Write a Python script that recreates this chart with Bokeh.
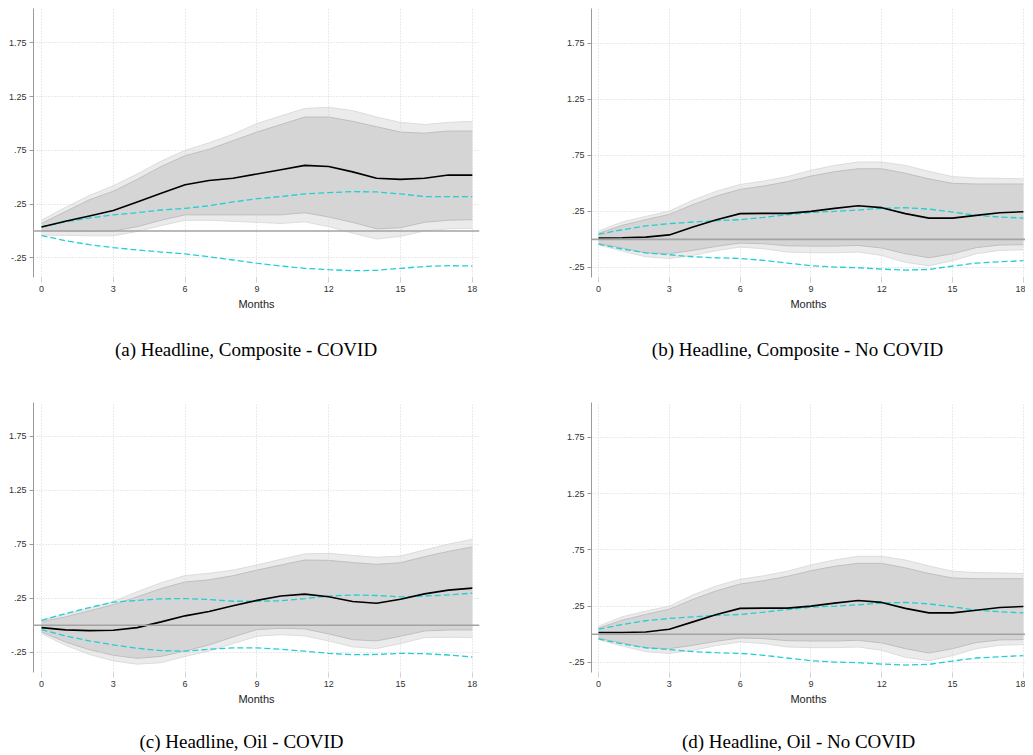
from bokeh.plotting import figure
from bokeh.models import Range1d, FixedTicker, Span
from bokeh.core.properties import value
from bokeh.layouts import column, row
from bokeh.embed import file_html
from bokeh.resources import INLINE

months = list(range(19))
x_ticks = [0, 3, 6, 9, 12, 15, 18]
y_ticks = [-0.25, 0.25, 0.75, 1.25, 1.75]
y_tick_labels = ["-.25", ".25", ".75", "1.25", "1.75"]
captions = ["(a) Headline, Composite - COVID", "(b) Headline, Composite - No COVID",
            "(c) Headline, Oil - COVID", "(d) Headline, Oil - No COVID"]

# (a) Headline, Composite - COVID
a_irf = [0.037, 0.09, 0.14, 0.19, 0.27, 0.35, 0.43, 0.47, 0.49, 0.53, 0.57, 0.61, 0.60, 0.55, 0.49, 0.48, 0.49, 0.52, 0.52]
a_in_hi = [0.07, 0.18, 0.29, 0.37, 0.48, 0.60, 0.70, 0.76, 0.84, 0.92, 0.99, 1.06, 1.06, 1.02, 0.97, 0.92, 0.91, 0.93, 0.93]
a_in_lo = [0.00, 0.00, -0.005, 0.0, 0.04, 0.10, 0.15, 0.15, 0.15, 0.15, 0.15, 0.17, 0.13, 0.08, 0.02, 0.03, 0.08, 0.10, 0.105]
a_out_hi = [0.10, 0.22, 0.33, 0.42, 0.53, 0.65, 0.75, 0.82, 0.90, 1.00, 1.07, 1.14, 1.15, 1.12, 1.06, 1.01, 0.99, 1.01, 1.02]
a_out_lo = [-0.04, -0.04, -0.045, -0.045, -0.005, 0.05, 0.10, 0.10, 0.09, 0.08, 0.07, 0.085, 0.04, -0.02, -0.075, -0.05, 0.0, 0.02, 0.025]
a_cy_hi = [0.037, 0.085, 0.12, 0.15, 0.17, 0.195, 0.21, 0.235, 0.27, 0.30, 0.32, 0.345, 0.357, 0.366, 0.363, 0.345, 0.32, 0.32, 0.32]
a_cy_lo = [-0.043, -0.09, -0.127, -0.155, -0.177, -0.196, -0.214, -0.24, -0.27, -0.30, -0.326, -0.348, -0.36, -0.37, -0.366, -0.348, -0.33, -0.323, -0.326]

# (b) Headline, Composite - No COVID
b_irf = [0.012, 0.015, 0.02, 0.04, 0.11, 0.175, 0.23, 0.232, 0.232, 0.25, 0.277, 0.30, 0.283, 0.23, 0.19, 0.19, 0.214, 0.238, 0.247]
b_in_hi = [0.054, 0.125, 0.176, 0.223, 0.31, 0.387, 0.446, 0.476, 0.515, 0.565, 0.604, 0.63, 0.63, 0.59, 0.54, 0.50, 0.494, 0.494, 0.494]
b_in_lo = [-0.036, -0.077, -0.12, -0.128, -0.098, -0.062, -0.033, -0.039, -0.057, -0.06, -0.06, -0.054, -0.077, -0.128, -0.164, -0.128, -0.074, -0.05, -0.048]
b_out_hi = [0.074, 0.155, 0.205, 0.253, 0.35, 0.43, 0.49, 0.52, 0.56, 0.616, 0.66, 0.69, 0.69, 0.66, 0.607, 0.56, 0.548, 0.545, 0.54]
b_out_lo = [-0.048, -0.104, -0.155, -0.17, -0.143, -0.10, -0.068, -0.083, -0.113, -0.119, -0.119, -0.113, -0.143, -0.205, -0.235, -0.19, -0.128, -0.098, -0.092]
b_cy_hi = [0.045, 0.086, 0.12, 0.14, 0.155, 0.167, 0.176, 0.196, 0.22, 0.24, 0.25, 0.262, 0.277, 0.283, 0.27, 0.244, 0.214, 0.20, 0.19]
b_cy_lo = [-0.042, -0.086, -0.12, -0.137, -0.155, -0.164, -0.17, -0.187, -0.211, -0.235, -0.247, -0.253, -0.265, -0.274, -0.268, -0.238, -0.211, -0.20, -0.19]

# (c) Headline, Oil - COVID
c_irf = [-0.022, -0.043, -0.05, -0.046, -0.022, 0.031, 0.087, 0.127, 0.18, 0.23, 0.27, 0.288, 0.263, 0.22, 0.204, 0.24, 0.29, 0.325, 0.343]
c_in_hi = [0.034, 0.077, 0.133, 0.19, 0.263, 0.34, 0.40, 0.42, 0.458, 0.51, 0.557, 0.603, 0.60, 0.58, 0.563, 0.578, 0.634, 0.683, 0.724]
c_in_lo = [-0.062, -0.155, -0.226, -0.278, -0.306, -0.288, -0.238, -0.182, -0.108, -0.04, -0.028, -0.034, -0.08, -0.133, -0.145, -0.102, -0.053, -0.043, -0.043]
c_out_hi = [0.046, 0.10, 0.155, 0.22, 0.31, 0.393, 0.46, 0.48, 0.51, 0.557, 0.61, 0.66, 0.665, 0.646, 0.628, 0.64, 0.696, 0.75, 0.795]
c_out_lo = [-0.077, -0.186, -0.27, -0.33, -0.36, -0.346, -0.288, -0.238, -0.17, -0.102, -0.087, -0.099, -0.145, -0.20, -0.216, -0.17, -0.114, -0.111, -0.114]
c_cy_hi = [0.046, 0.108, 0.164, 0.213, 0.23, 0.244, 0.247, 0.238, 0.222, 0.222, 0.226, 0.247, 0.27, 0.28, 0.275, 0.263, 0.27, 0.28, 0.297]
c_cy_lo = [-0.04, -0.099, -0.145, -0.182, -0.213, -0.235, -0.24, -0.222, -0.21, -0.21, -0.222, -0.24, -0.26, -0.272, -0.27, -0.26, -0.263, -0.275, -0.294]

# (d) Headline, Oil - No COVID
d_irf = [0.015, 0.016, 0.02, 0.045, 0.11, 0.175, 0.23, 0.232, 0.232, 0.25, 0.277, 0.30, 0.283, 0.23, 0.19, 0.19, 0.214, 0.238, 0.247]
d_in_hi = [0.054, 0.125, 0.176, 0.223, 0.31, 0.387, 0.446, 0.476, 0.515, 0.565, 0.604, 0.63, 0.63, 0.59, 0.54, 0.50, 0.494, 0.494, 0.494]
d_in_lo = [-0.036, -0.077, -0.12, -0.128, -0.098, -0.062, -0.033, -0.039, -0.057, -0.06, -0.06, -0.054, -0.077, -0.128, -0.167, -0.128, -0.074, -0.05, -0.048]
d_out_hi = [0.071, 0.155, 0.205, 0.25, 0.35, 0.43, 0.488, 0.52, 0.56, 0.616, 0.66, 0.693, 0.693, 0.66, 0.607, 0.56, 0.548, 0.545, 0.54]
d_out_lo = [-0.048, -0.104, -0.155, -0.17, -0.143, -0.10, -0.068, -0.083, -0.113, -0.119, -0.119, -0.113, -0.143, -0.205, -0.235, -0.19, -0.128, -0.098, -0.092]
d_cy_hi = [0.045, 0.086, 0.12, 0.14, 0.155, 0.167, 0.176, 0.196, 0.22, 0.24, 0.25, 0.262, 0.277, 0.283, 0.27, 0.244, 0.214, 0.20, 0.19]
d_cy_lo = [-0.042, -0.086, -0.12, -0.137, -0.155, -0.164, -0.17, -0.187, -0.211, -0.235, -0.247, -0.253, -0.265, -0.274, -0.268, -0.238, -0.211, -0.20, -0.19]

OUTER = "#ebebeb"
INNER = "#d5d5d5"
CYAN = "#22cfd1"


def make_panel(irf, in_lo, in_hi, out_lo, out_hi, cy_lo, cy_hi,
               x_range, y_range, width, height, mbl, mbr, mbt, mbb):
    p = figure(width=width, height=height, output_backend="svg", toolbar_location=None,
               x_range=Range1d(*x_range), y_range=Range1d(*y_range),
               min_border_left=mbl, min_border_right=mbr, min_border_top=mbt,
               min_border_bottom=mbb)
    p.outline_line_color = None
    p.background_fill_color = "white"
    p.border_fill_color = "white"

    p.varea(x=months, y1=out_lo, y2=out_hi, fill_color=OUTER, level="image")
    p.line(months, out_hi, line_color="#dcdcdc", line_width=1, level="image")
    p.line(months, out_lo, line_color="#dcdcdc", line_width=1, level="image")
    p.varea(x=months, y1=in_lo, y2=in_hi, fill_color=INNER, level="image")
    p.line(months, in_hi, line_color="#bfbfbf", line_width=1, level="image")
    p.line(months, in_lo, line_color="#bfbfbf", line_width=1, level="image")

    p.add_layout(Span(location=0, dimension="width", line_color="#a3a3a3", line_width=1.6))

    p.line(months, cy_hi, line_color=CYAN, line_width=1.3, line_dash="6 3")
    p.line(months, cy_lo, line_color=CYAN, line_width=1.3, line_dash="6 3")
    p.line(months, irf, line_color="black", line_width=1.6)

    p.xaxis.ticker = FixedTicker(ticks=x_ticks)
    p.yaxis.ticker = FixedTicker(ticks=y_ticks)
    p.yaxis.major_label_overrides = {t: l for t, l in zip(y_ticks, y_tick_labels)}
    p.xaxis.axis_label = "Months"
    p.xaxis.axis_label_text_font = "Liberation Sans"
    p.xaxis.axis_label_text_font_style = "normal"
    p.xaxis.axis_label_text_font_size = "11px"
    p.xaxis.axis_label_text_color = "#222222"
    p.xaxis.axis_label_standoff = 3
    for ax in (p.xaxis, p.yaxis):
        ax.major_label_text_font = "Liberation Sans"
        ax.major_label_text_font_size = "9px"
        ax.major_label_text_color = "#333333"
        ax.minor_tick_line_color = None
        ax.major_tick_in = 0
    p.xaxis.axis_line_color = None
    p.xaxis.major_tick_out = 5
    p.xaxis.major_tick_line_color = "#d0d0d0"
    p.xaxis.major_label_standoff = 3
    p.yaxis.axis_line_color = "#9a9a9a"
    p.yaxis.axis_line_width = 1
    p.yaxis.major_tick_out = 4
    p.yaxis.major_tick_line_color = "#9a9a9a"
    p.yaxis.major_label_standoff = 3

    for g in (p.xgrid, p.ygrid):
        g.grid_line_color = "#d4d4d4"
        g.grid_line_dash = "1 2"
        g.grid_line_width = 1
        g.level = "underlay"
    return p


def make_caption(text, width, height, cx, cy):
    c = figure(width=width, height=height, output_backend="svg", toolbar_location=None,
               x_range=Range1d(0, width), y_range=Range1d(0, height),
               x_axis_type=None, y_axis_type=None,
               min_border_left=0, min_border_right=0, min_border_top=0, min_border_bottom=0)
    c.outline_line_color = None
    c.grid.visible = False
    c.text(x=[cx], y=[height - cy], text=[text], text_align="center", text_baseline="middle",
           text_font=value("Liberation Serif"), text_font_size="19px", text_color="black")
    return c


LEFT_W, RIGHT_W = 548, 477
TOP_H, BOT_H = 320, 313
CAP_TOP_H, CAP_BOT_H = 82, 37
left_x = (-0.334, 18.30)
right_x = (-0.297, 18.09)

pa = make_panel(a_irf, a_in_lo, a_in_hi, a_out_lo, a_out_hi, a_cy_lo, a_cy_hi,
                left_x, (-0.433, 2.07), LEFT_W, TOP_H, 33, 69, 8, 43)
pb = make_panel(b_irf, b_in_lo, b_in_hi, b_out_lo, b_out_hi, b_cy_lo, b_cy_hi,
                right_x, (-0.34, 2.06), RIGHT_W, TOP_H, 43, 0, 8, 43)
pc = make_panel(c_irf, c_in_lo, c_in_hi, c_out_lo, c_out_hi, c_cy_lo, c_cy_hi,
                left_x, (-0.437, 2.06), LEFT_W, BOT_H, 33, 69, 0, 43)
pd = make_panel(d_irf, d_in_lo, d_in_hi, d_out_lo, d_out_hi, d_cy_lo, d_cy_hi,
                right_x, (-0.34, 2.06), RIGHT_W, BOT_H, 43, 0, 0, 43)

ca = make_caption(captions[0], LEFT_W, CAP_TOP_H, 245.5, 29)
cb = make_caption(captions[1], RIGHT_W, CAP_TOP_H, 249, 29)
cc = make_caption(captions[2], LEFT_W, CAP_BOT_H, 241, 26)
cd = make_caption(captions[3], RIGHT_W, CAP_BOT_H, 250, 26)

layout = column(row(pa, pb), row(ca, cb), row(pc, pd), row(cc, cd))
open("out.html", "w").write(file_html(layout, INLINE))
